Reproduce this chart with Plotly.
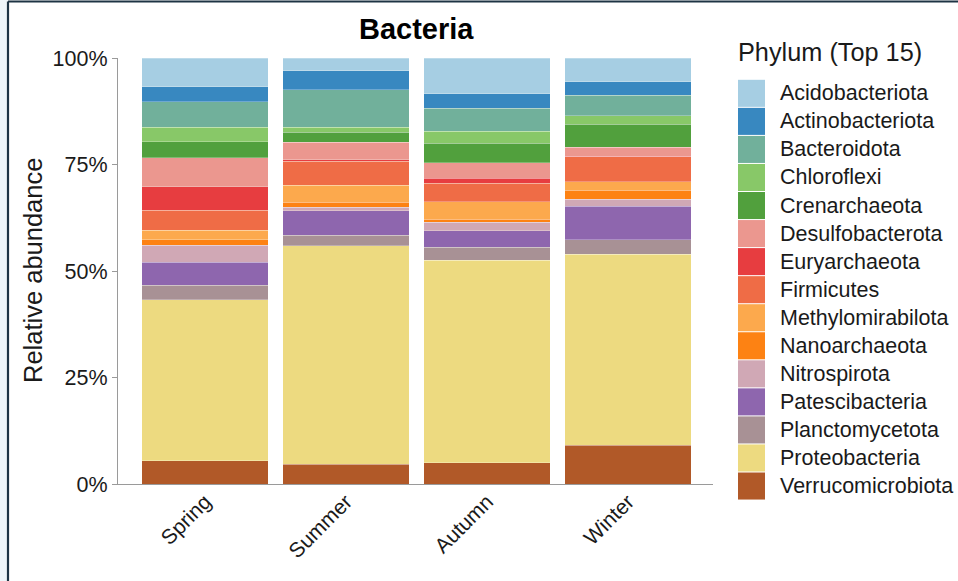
import plotly.graph_objects as go

seasons = ["Spring", "Summer", "Autumn", "Winter"]
phyla = ["Acidobacteriota", "Actinobacteriota", "Bacteroidota", "Chloroflexi",
         "Crenarchaeota", "Desulfobacterota", "Euryarchaeota", "Firmicutes",
         "Methylomirabilota", "Nanoarchaeota", "Nitrospirota", "Patescibacteria",
         "Planctomycetota", "Proteobacteria", "Verrucomicrobiota"]
colors = ["#A6CEE3", "#3888C0", "#71B09B", "#88C868", "#51A03D", "#EB978F",
          "#E73D40", "#EF6C46", "#FCA94D", "#FD8213", "#D0A8B5", "#8E66AE",
          "#A89195", "#EDDA80", "#B15928"]

# relative abundance (%) per season, in phyla order
spring = [6.8, 3.5, 5.9, 3.4, 3.8, 6.8, 5.5, 4.7, 2.3, 1.3, 4.0, 5.3, 3.4, 37.8, 5.5]
summer = [3.0, 4.4, 8.8, 1.2, 2.4, 4.1, 0.3, 5.7, 4.0, 1.1, 0.9, 5.7, 2.5, 51.3, 4.6]
autumn = [8.4, 3.4, 5.4, 2.8, 4.6, 3.6, 1.2, 4.4, 4.0, 0.8, 1.9, 3.9, 3.1, 47.5, 5.0]
winter = [5.6, 3.1, 4.9, 1.9, 5.4, 2.2, 0.1, 5.8, 2.1, 2.0, 1.7, 7.9, 3.4, 44.8, 9.1]

ytick_vals = [0, 25, 50, 75, 100]
ytick_text = ["0%", "25%", "50%", "75%", "100%"]

season_values = [spring, summer, autumn, winter]

W, H = 958, 581
L, R, T, B = 118, 245, 58, 97
PW, PH = W - L - R, H - T - B


def px(x):
    return (x - L) / PW


def py(y):
    return (H - B - y) / PH


FONT = "Liberation Sans, Arial, sans-serif"

fig = go.Figure()
# stack bottom-up: last phylum at bottom
for i in reversed(range(len(phyla))):
    fig.add_trace(go.Bar(
        x=seasons,
        y=[sv[i] for sv in season_values],
        name=phyla[i],
        marker=dict(color=colors[i], line=dict(color="rgba(255,255,255,0.45)", width=0.6)),
        showlegend=False,
    ))

shapes = []
annotations = []

# manual legend
sw_x0, sw_x1 = 738, 765
sw_top, sw_h = 79.3, 28.05
for k, (name, col) in enumerate(zip(phyla, colors)):
    y0 = sw_top + k * sw_h
    shapes.append(dict(type="rect", xref="paper", yref="paper",
                       x0=px(sw_x0), x1=px(sw_x1), y0=py(y0 + sw_h - 0.5), y1=py(y0 + 0.5),
                       fillcolor=col, line=dict(width=0)))
    annotations.append(dict(xref="paper", yref="paper", x=px(778), y=py(y0 + sw_h / 2),
                            text=name, showarrow=False, xanchor="left", yanchor="middle",
                            font=dict(family=FONT, size=21.5, color="#1a1a1a")))
annotations.append(dict(xref="paper", yref="paper", x=px(736), y=py(52),
                        text="Phylum (Top 15)", showarrow=False, xanchor="left", yanchor="middle",
                        font=dict(family=FONT, size=25.3, color="#1a1a1a")))
# title
annotations.append(dict(xref="paper", yref="paper", x=px(416), y=py(29),
                        text="<b>Bacteria</b>", showarrow=False, xanchor="center", yanchor="middle",
                        font=dict(family=FONT, size=29, color="#000000")))
# y axis title
annotations.append(dict(xref="paper", yref="paper", x=px(33), y=py(271), textangle=-90,
                        text="Relative abundance", showarrow=False, xanchor="center", yanchor="middle",
                        font=dict(family=FONT, size=25.5, color="#1a1a1a")))

# outer frame of the screenshot
shapes.append(dict(type="rect", xref="paper", yref="paper", layer="below",
                   x0=px(0), x1=px(8), y0=py(H), y1=py(0),
                   fillcolor="#EEF5F9", line=dict(width=0)))
shapes.append(dict(type="line", xref="paper", yref="paper",
                   x0=px(8), x1=px(8), y0=py(H), y1=py(1.5),
                   line=dict(color="#1E3444", width=2.2)))
shapes.append(dict(type="line", xref="paper", yref="paper",
                   x0=px(8), x1=px(W), y0=py(1.5), y1=py(1.5),
                   line=dict(color="#1E3444", width=2.2)))

fig.update_layout(
    barmode="stack",
    bargap=0.105,
    width=W, height=H,
    margin=dict(l=L, r=R, t=T, b=B, pad=0),
    paper_bgcolor="white", plot_bgcolor="white",
    font=dict(family=FONT, color="#1a1a1a"),
    shapes=shapes,
    annotations=annotations,
    xaxis=dict(range=[-0.617, 3.603], showline=True, linecolor="#9a9a9a", linewidth=1.3,
               ticks="", tickangle=-45, tickfont=dict(size=21, color="#1a1a1a"),
               ticklabelstandoff=-4,
               showgrid=False, zeroline=False, fixedrange=True),
    yaxis=dict(range=[0, 100], tickvals=ytick_vals, ticktext=ytick_text,
               showline=True, linecolor="#9a9a9a", linewidth=1.3,
               ticks="outside", ticklen=5, tickcolor="#9a9a9a",
               tickfont=dict(size=21.5, color="#1a1a1a"), ticklabelstandoff=0,
               showgrid=False, zeroline=False, fixedrange=True),
)

fig.write_html("out.html", config={"displayModeBar": False},
               post_script="document.body.style.margin='0';document.body.style.overflow='hidden';")
